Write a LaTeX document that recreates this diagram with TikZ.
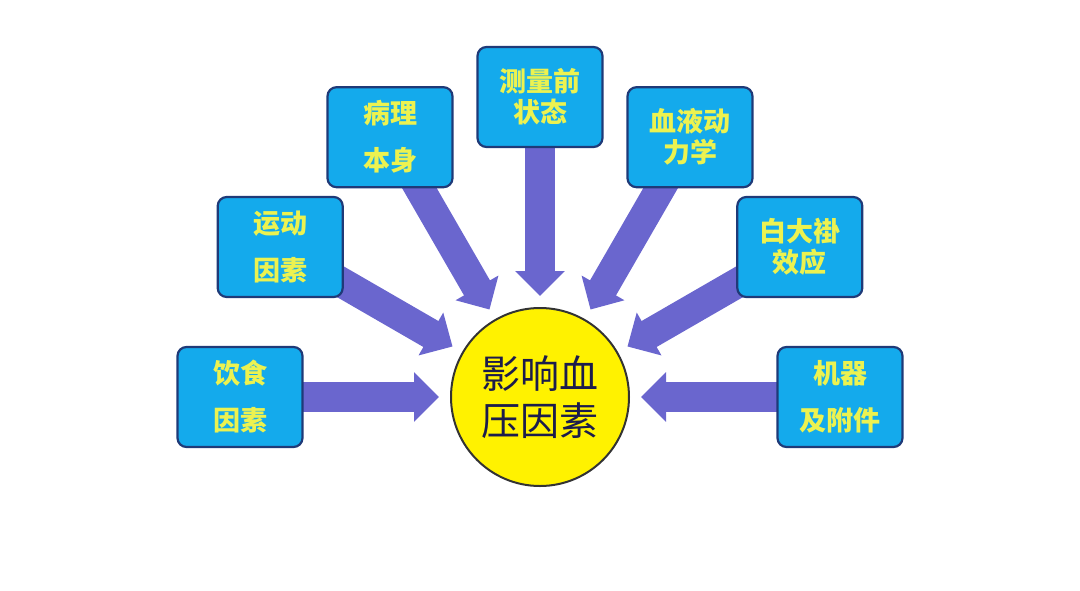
\documentclass[tikz,border=0pt]{standalone}
\usepackage{fontspec}
\newfontfamily\cjk{Noto Sans CJK SC}
\usetikzlibrary{arrows.meta,backgrounds}
\definecolor{boxfill}{HTML}{14AAEC}
\definecolor{boxline}{HTML}{1F3A78}
\definecolor{boxtext}{HTML}{ECF250}
\definecolor{arrowc}{HTML}{6A66CE}
\definecolor{midtext}{HTML}{1C1C4C}
\begin{document}
\begin{tikzpicture}[x=1pt,y=-1pt,
  box/.style={draw=boxline, line width=2.2pt, fill=boxfill, rounded corners=9pt,
    minimum width=125pt, minimum height=100pt, align=center, text=boxtext, inner sep=0pt},
  wide/.style={font=\cjk\bfseries\fontsize{27}{47}\selectfont},
  tight/.style={font=\cjk\bfseries\fontsize{27}{31}\selectfont},
  blk/.style={draw=arrowc, line width=30pt, -{Triangle[width=48pt,length=25pt]}, shorten >=11pt},
  hub/.style={circle, draw=black!80, line width=2pt, fill=yellow, minimum size=178pt,
    inner sep=0pt, align=center, text=midtext, font=\cjk\fontsize{39}{47}\selectfont}
]
\useasboundingbox (0,0) rectangle (1080,590);
\node[hub] (m) at (540,397) {影响血\\压因素};
\node[box,wide]  (a) at (240,397)   {饮食\\因素};
\node[box,wide]  (b) at (280.2,247) {运动\\因素};
\node[box,wide]  (c) at (390,137.2) {病理\\本身};
\node[box,tight] (d) at (540,97)    {测量前\\状态};
\node[box,tight] (e) at (690,137.2) {血液动\\力学};
\node[box,tight] (f) at (799.8,247) {白大褂\\效应};
\node[box,wide]  (g) at (840,397)   {机器\\及附件};
\begin{scope}[on background layer]
  \foreach \n in {a,b,c,d,e,f,g} {
    \draw[blk] (\n.center) -- (m);
  }
\end{scope}
\end{tikzpicture}
\end{document}
